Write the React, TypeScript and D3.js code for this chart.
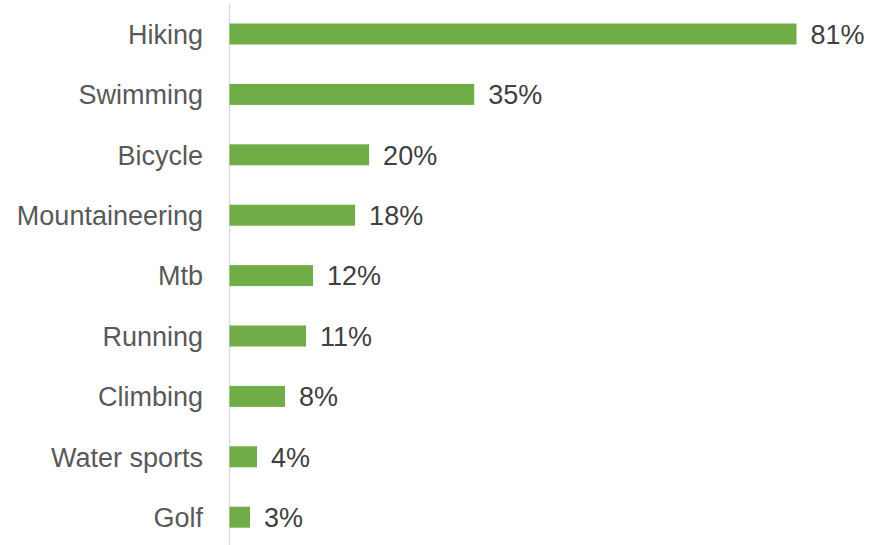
import React from "react";
import * as d3 from "d3";

const categories = ["Hiking", "Swimming", "Bicycle", "Mountaineering", "Mtb", "Running", "Climbing", "Water sports", "Golf"];
const values = [81, 35, 20, 18, 12, 11, 8, 4, 3];

const W = 870;
const H = 545;

export default function App() {
  const x = d3.scaleLinear().domain([0, 81]).range([229, 796.5]);
  const y = d3.scalePoint<string>().domain(categories).range([34, 517.2]).padding(0);
  const barH = 21;
  const fs = 27;
  return (
    <svg width={W} height={H} style={{ position: "absolute", left: 0, top: 0, background: "#fff" }}>
      <line x1={229.5} x2={229.5} y1={4} y2={545} stroke="#d9d9d9" strokeWidth={1.3} />
      {categories.map((c, i) => {
        const cy = y(c)!;
        const v = values[i];
        return (
          <g key={c}>
            <rect x={x(0) + 0.5} y={cy - barH / 2} width={x(v) - x(0) - 0.5} height={barH} fill="#70ad47" />
            <text
              x={203}
              y={cy + fs * 0.36}
              textAnchor="end"
              fontFamily="Liberation Sans, Arial, sans-serif"
              fontSize={fs}
              fill="#595959"
            >
              {c}
            </text>
            <text
              x={x(v) + 14}
              y={cy + fs * 0.36}
              fontFamily="Liberation Sans, Arial, sans-serif"
              fontSize={fs}
              fill="#404040"
            >
              {v}%
            </text>
          </g>
        );
      })}
    </svg>
  );
}
